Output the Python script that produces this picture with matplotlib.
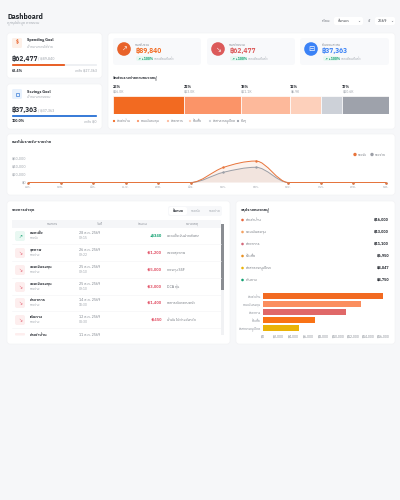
from matplotlib.path import Path
from matplotlib.patches import FancyBboxPatch, PathPatch, Circle, Rectangle
import matplotlib; matplotlib.use("Agg")
import matplotlib.pyplot as plt

plt.rcParams["font.family"] = ["IBM Plex Sans Thai", "DejaVu Sans"]

W, H = 400, 500
BG = "#f6f7f9"
INK = "#2b2f36"
GREY = "#9aa0a8"
ORANGE = "#f26a21"

# stacked share bar
share_names = ["ค่าเช่าบ้าน", "ออมเงินลงทุน", "ค่าอาหาร", "ซื้อเสื้อ", "ค่าสาธารณูปโภค", "อื่นๆ"]
share_values = [16000, 13000, 11100, 6950, 4847, 10580]
share_pct = ["26%", "21%", "18%", "11%", None, "17%"]
share_money = ["฿16.0K", "฿13.0K", "฿11.1K", "฿6.9K", None, "฿10.6K"]
share_colors = ["#f26a21", "#fb9468", "#fdb99b", "#fdd0bb", "#cdd1d8", "#9ea2ab"]

# monthly line chart
months = ["ม.ค.", "ก.พ.", "มี.ค.", "เม.ย.", "พ.ค.", "มิ.ย.", "ก.ค.", "ส.ค.", "ก.ย.", "ต.ค.", "พ.ย.", "ธ.ค."]
income = [0, 0, 0, 0, 0, 0, 37000, 52840, 0, 0, 0, 0]
expense = [0, 0, 0, 0, 0, 0, 25000, 37477, 0, 0, 0, 0]
line_ticks = [0, 20000, 40000, 60000]
line_tick_labels = ["฿0", "฿20,000", "฿40,000", "฿60,000"]

# transactions table
tx_names = ["ดอกเบี้ย", "สุขภาพ", "ออมเงินลงทุน", "ออมเงินลงทุน", "ค่าอาหาร", "เดินทาง", "ค่าเช่าบ้าน"]
tx_kinds = ["รายรับ", "รายจ่าย", "รายจ่าย", "รายจ่าย", "รายจ่าย", "รายจ่าย", "รายจ่าย"]
tx_dates = ["28 ส.ค. 2569", "26 ส.ค. 2569", "25 ส.ค. 2569", "25 ส.ค. 2569", "14 ส.ค. 2569", "12 ส.ค. 2569", "11 ส.ค. 2569"]
tx_times = ["09:15", "09:22", "09:10", "09:10", "18:30", "08:30", "09:00"]
tx_amounts = ["+฿340", "-฿1,200", "-฿5,000", "-฿3,000", "-฿1,400", "-฿450", "-฿8,000"]
tx_notes = ["ดอกเบี้ยเงินฝากพิเศษ", "ตรวจสุขภาพ", "กองทุน SSF", "DCA หุ้น", "อาหารกับครอบครัว", "น้ำมัน ไปต่างจังหวัด", ""]
tx_headers = ["รายการ", "วันที่", "จำนวน", "หมายเหตุ"]

# category summary
cat_names = ["ค่าเช่าบ้าน", "ออมเงินลงทุน", "ค่าอาหาร", "ซื้อเสื้อ", "ค่าสาธารณูปโภค", "เดินทาง"]
cat_values = [16000, 13000, 11100, 6950, 4847, 4750]
cat_colors = ["#e8643c", "#f4a261", "#d4687a", "#e89020", "#eab308", "#10a070"]
bar_colors = ["#f26a21", "#fb8e5e", "#e06868", "#f97316", "#eab308"]
bar_ticks = [0, 2000, 4000, 6000, 8000, 10000, 12000, 14000, 16000]


def px_axes(fig, x0, y0, x1, y1):
    # axes placed with reference pixel box (y measured from the top)
    return fig.add_axes([x0 / W, 1 - y1 / H, (x1 - x0) / W, (y1 - y0) / H])


def card(ax, x0, y0, x1, y1, r=3, fc="white", ec="#f0f1f4"):
    ax.add_patch(FancyBboxPatch((x0 + r, y0 + r), x1 - x0 - 2 * r, y1 - y0 - 2 * r,
                                boxstyle=f"round,pad={r},rounding_size={r}", fc=fc, ec=ec, lw=0.4))


def t(ax, x, y, s, size=3, color=INK, weight="normal", ha="left"):
    ax.text(x, y, s, fontsize=size, color=color, fontweight=weight, ha=ha, va="center")


def slope_at(ys, i):
    # monotone tangent: flat at peaks and on flat runs
    d0 = ys[i] - ys[i - 1] if i > 0 else 0
    d1 = ys[i + 1] - ys[i] if i < len(ys) - 1 else 0
    if d0 * d1 <= 0:
        return 0
    return (d0 + d1) / 2


def smooth(ax, xs, ys, color, fill=None):
    verts, codes = [(xs[0], ys[0])], [Path.MOVETO]
    for i in range(len(xs) - 1):
        c1 = (xs[i] + 1 / 3, ys[i] + slope_at(ys, i) / 3)
        c2 = (xs[i + 1] - 1 / 3, ys[i + 1] - slope_at(ys, i + 1) / 3)
        verts += [c1, c2, (xs[i + 1], ys[i + 1])]
        codes += [Path.CURVE4] * 3
    ax.add_patch(PathPatch(Path(verts, codes), fc="none", ec=color, lw=0.7, zorder=3, clip_on=False))
    if fill:
        ax.add_patch(PathPatch(Path(verts + [(xs[-1], 0), (xs[0], 0), (xs[0], 0)],
                                    codes + [Path.LINETO, Path.LINETO, Path.CLOSEPOLY]),
                               fc=fill, ec="none", alpha=0.09, zorder=2))
    ax.scatter(xs, ys, s=3, color=color, zorder=4, linewidths=0, clip_on=False)


def draw_stack(fig):
    ax = px_axes(fig, 113, 96, 389, 114)
    left = 0
    for v, c in zip(share_values, share_colors):
        ax.barh(0, v, left=left, color=c, height=1, edgecolor="white", linewidth=0.5)
        left += v
    ax.set_xlim(0, left)
    ax.set_ylim(-0.5, 0.5)
    ax.axis("off")


def draw_line(fig):
    ax = px_axes(fig, 28, 150, 386, 182.5)
    xs = list(range(len(months)))
    ax.set_xlim(0, 11)
    ax.set_ylim(0, 80000)
    smooth(ax, xs, expense, "#9b9ea6", fill="#8a5a50")
    smooth(ax, xs, income, "#e8743b", fill="#e8743b")
    ax.set_yticks(line_ticks, line_tick_labels)
    ax.set_xticks(xs, months)
    ax.tick_params(labelsize=2.6, colors=GREY, length=0, pad=1.5)
    for s in ax.spines.values():
        s.set_visible(False)
    ax.patch.set_alpha(0)


def draw_hbars(fig):
    ax = px_axes(fig, 263, 292, 383, 332)
    ys = list(range(5))
    ax.barh(ys, cat_values[:5], color=bar_colors, height=0.78)
    ax.set_ylim(4.5, -0.5)
    ax.set_xlim(0, 16000)
    ax.set_yticks(ys, cat_names[:5])
    ax.set_xticks(bar_ticks, [f"฿{v:,}" if v else "฿0" for v in bar_ticks])
    ax.tick_params(labelsize=2.3, colors="#7d838c", length=0, pad=1.5)
    for s in ax.spines.values():
        s.set_visible(False)
    ax.patch.set_alpha(0)


def main():
    fig = plt.figure(figsize=(W / 100, H / 100), dpi=100, facecolor=BG)
    ax = fig.add_axes([0, 0, 1, 1])
    ax.set_xlim(0, W)
    ax.set_ylim(H, 0)
    ax.axis("off")

    t(ax, 7, 16.5, "Dashboard", 5, "#1f2329", "bold")
    t(ax, 7, 23.5, "ดูสรุปข้อมูล ภาพรวม", 2.8, GREY)
    t(ax, 331, 21, "เดือน:", 2.8, "#6b7078", ha="right")
    card(ax, 334, 17, 363, 25, r=2, ec="none")
    t(ax, 338, 21, "ทั้งหมด", 2.8)
    t(ax, 360, 21, "⌄", 2.6, "#6b7078", ha="right")
    t(ax, 371, 21, "ปี:", 2.8, "#6b7078", ha="right")
    card(ax, 375, 17, 395, 25, r=2, ec="none")
    t(ax, 378, 21, "2569", 2.8)
    t(ax, 393, 21, "⌄", 2.6, "#6b7078", ha="right")

    # goal cards
    goals = [(33, "Spending Goal", "เป้าหมายการใช้จ่าย", "฿62,477", "/ ฿89,840", "#e8622a", 0.624,
              "62.4%", "เหลือ ฿27,363", "#fdf0e8"),
             (84, "Savings Goal", "เป้าหมายการออม", "฿37,363", "/ ฿37,363", "#3b7dd8", 1.0,
              "100.0%", "เหลือ ฿0", "#e8f1fc")]
    for y, title, sub, val, of, col, frac, pct, rest, tint in goals:
        card(ax, 7, y, 102, y + 45)
        card(ax, 12, y + 5, 22, y + 15, r=1.5, fc=tint, ec="none")
        if frac < 1:
            t(ax, 17, y + 10, "$", 3.4, col, "bold", ha="center")
        else:
            ax.add_patch(Rectangle((15.5, y + 8.5), 3, 3, fc="none", ec=col, lw=0.5))
        t(ax, 27, y + 7.5, title, 2.8, INK, "bold")
        t(ax, 27, y + 13.5, sub, 2.5, GREY)
        t(ax, 12, y + 25.5, val, 4.8, INK, "bold")
        t(ax, 38, y + 26, of, 2.6, GREY)
        card(ax, 12, y + 31, 97, y + 33, r=0.9, fc="#eef0f3", ec="none")
        card(ax, 12, y + 31, 12 + 85 * frac, y + 33, r=0.9, fc=col, ec="none")
        t(ax, 12, y + 37.5, pct, 2.6, INK, "bold")
        t(ax, 97, y + 37.5, rest, 2.5, GREY, ha="right")

    # KPI tiles and stacked share
    card(ax, 108, 33, 395, 129)
    kpis = [(113, 201, "รายรับรวม", "฿89,840", ORANGE, "#e8622a", "↗"),
            (207, 295, "รายจ่ายรวม", "฿62,477", "#dc5a5a", "#dc5a5a", "↘"),
            (300, 389, "เงินออมสะสม", "฿37,363", "#3b82f6", "#3b82f6", "⊟")]
    for x0, x1, name, val, vc, cc, glyph in kpis:
        card(ax, x0, 38, x1, 65, fc="#f8f9fb", ec="none")
        ax.add_patch(Circle((x0 + 11, 49), 6.8, fc=cc, ec="none"))
        t(ax, x0 + 11, 49, glyph, 5.4, "white", ha="center")
        t(ax, x0 + 22, 44.5, name, 2.5, "#7d838c")
        t(ax, x0 + 22, 51, val, 4.8, vc, "bold")
        card(ax, x0 + 23, 56, x0 + 38, 61, r=2, fc="#e9f8f2", ec="none")
        t(ax, x0 + 25, 58.5, "↗ +100%", 2.4, "#10a070", "bold")
        t(ax, x0 + 41, 58.5, "จากเดือนที่แล้ว", 2.4, GREY)
    t(ax, 113, 78, "สัดส่วนรายจ่ายตามหมวดหมู่", 2.7, INK, "bold")
    draw_stack(fig)
    total, left = sum(share_values), 0
    for v, p, m in zip(share_values, share_pct, share_money):
        x = 113 + 276 * left / total
        left += v
        if p:
            t(ax, x, 87, p, 2.7, INK, "bold")
            t(ax, x, 91.5, m, 2.4, GREY)
    lx = [113, 137, 167, 189, 209, 237]
    for x, n, c in zip(lx, share_names, share_colors):
        ax.add_patch(Circle((x + 1, 121), 1.1, fc=c, ec="none"))
        t(ax, x + 3.5, 121, n, 2.4, "#6b7078")

    # monthly chart
    card(ax, 7, 134, 395, 195)
    t(ax, 12, 142, "แนวโน้มรายรับ-รายจ่าย", 2.9, INK, "bold")
    draw_line(fig)
    for x, n, c in [(355, "รายรับ", "#e8743b"), (372, "รายจ่าย", "#9b9ea6")]:
        ax.add_patch(Circle((x, 154.5), 1.7, fc=c, ec="none"))
        t(ax, x + 3, 154.5, n, 2.4, "#6b7078")

    # transactions
    card(ax, 7, 201, 230, 344)
    t(ax, 12, 211, "รายการล่าสุด", 2.9, INK, "bold")
    card(ax, 168, 206, 222, 216, r=2, fc="#f7f8fa", ec="none")
    card(ax, 169, 207, 187, 215, r=2, ec="none")
    for x, s, c, w in [(178, "ทั้งหมด", INK, "bold"), (196, "รายรับ", GREY, "normal"), (215, "รายจ่าย", GREY, "normal")]:
        t(ax, x, 211, s, 2.6, c, w, ha="center")
    ax.add_patch(Rectangle((12, 220), 209, 8, fc="#f5f6f8", ec="none"))
    for x, s in zip([52, 100, 143, 192], tx_headers):
        t(ax, x, 224, s, 2.5, "#7d838c", ha="center")
    for i, row_y in enumerate([236, 253, 270, 287, 303, 320, 337]):
        if i == 6:
            # last row is cut off by the scroll area
            t(ax, 30, 334.5, tx_names[i], 2.8, INK, "bold")
            t(ax, 79, 334.5, tx_dates[i], 2.6, "#7d838c")
            card(ax, 15, 333, 25, 335.5, r=1, fc="#fdeeee", ec="none")
            continue
        pos = tx_amounts[i].startswith("+")
        col = "#10a070" if pos else "#e2566a"
        card(ax, 15, row_y - 5, 25, row_y + 5, r=2, fc="#e9f8f2" if pos else "#fdeeee", ec="none")
        t(ax, 20, row_y, "↗" if pos else "↘", 3.6, col, ha="center")
        t(ax, 30, row_y - 2.6, tx_names[i], 2.8, INK, "bold")
        t(ax, 30, row_y + 2.4, tx_kinds[i], 2.3, GREY)
        t(ax, 79, row_y - 2.6, tx_dates[i], 2.6, "#7d838c")
        t(ax, 79, row_y + 2.4, tx_times[i], 2.3, GREY)
        t(ax, 162, row_y, tx_amounts[i], 2.9, col, "bold", ha="right")
        t(ax, 167, row_y, tx_notes[i], 2.6, "#6b7078")
        ax.plot([12, 221], [row_y + 8.4, row_y + 8.4], color="#f3f4f6", lw=0.4)
    ax.add_patch(Rectangle((221, 224), 3, 111, fc="#f1f2f4", ec="none"))
    ax.add_patch(Rectangle((221, 224), 3, 66, fc="#8a8d92", ec="none"))

    # category summary
    card(ax, 236, 201, 395, 344)
    t(ax, 241, 209.5, "สรุปรายหมวดหมู่", 2.9, INK, "bold")
    for y, n, v, c in zip([220, 232, 244, 256, 268, 280], cat_names, cat_values, cat_colors):
        ax.add_patch(Circle((242.5, y), 1.3, fc=c, ec="none"))
        t(ax, 246, y, n, 2.7, "#6b7078")
        t(ax, 389, y, f"฿{v:,}", 2.7, INK, "bold", ha="right")
    draw_hbars(fig)

    fig.savefig("out.png", dpi=100, facecolor=BG)


if __name__ == "__main__":
    main()
